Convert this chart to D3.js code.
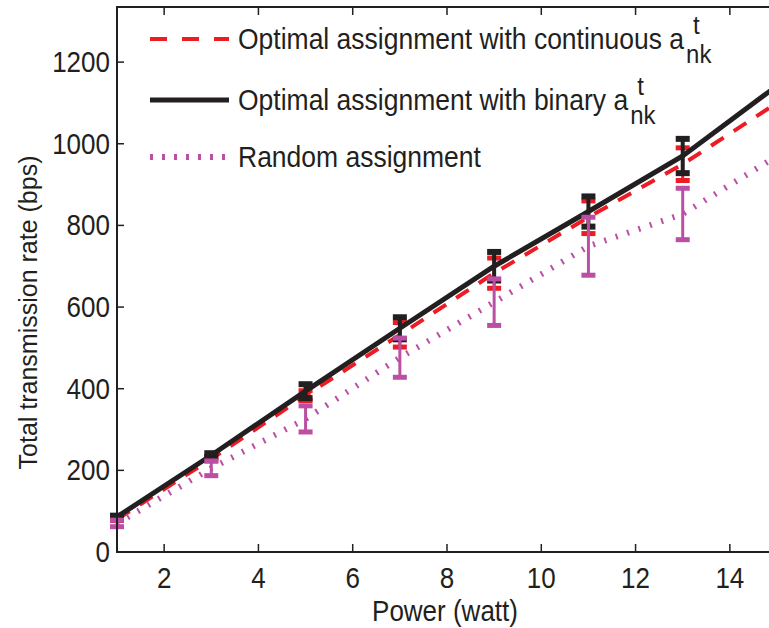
<!DOCTYPE html>
<html>
<head>
<meta charset="utf-8">
<script src="https://cdn.jsdelivr.net/npm/d3@7"></script>
<style>
    body { margin: 0; background: #ffffff; }
    svg { display: block; font-family: "Liberation Sans", Arial, sans-serif; }
</style>
</head>
<body>
<div id="chart"></div>
<script>
// power levels (watt) and mean rate / error half-width per scheme
const powerLevels = [1, 3, 5, 7, 9, 11, 13, 15];
const rateContinuous = [80, 228, 383, 532, 683, 820, 950, 1100];
const errContinuous = [3, 5, 12, 30, 37, 40, 40, 50];
const rateBinary = [86, 237, 394, 548, 700, 834, 970, 1142];
const errBinary = [3, 5, 17, 27, 35, 37, 42, 55];
const rateRandom = [70, 205, 326, 476, 612, 749, 828, 970];
const errRandom = [8, 18, 32, 48, 57, 71, 63, 60];

const xTickValues = [2, 4, 6, 8, 10, 12, 14];
const yTickValues = [0, 200, 400, 600, 800, 1000, 1200];

const legendLabels = ["Optimal assignment with continuous a", "Optimal assignment with binary a", "Random assignment"];
const legendSup = ["t", "t", ""];
const legendSub = ["nk", "nk", ""];

const xTitle = "Power (watt)";
const yTitle = "Total transmission rate (bps)";

const textColor = "#231f20";
const stretch = 1.1; // glyphs in the source figure are slightly taller than wide

function CreateScales() {
    const x = d3.scaleLinear().domain([1, 15]).range([117, 777]);
    const y = d3.scaleLinear().domain([0, 1335]).range([552, 7]);
    return { x, y };
};

function AddText(parent, x, y, content, size, anchor) {
    return parent.append("text")
        .attr("transform", `translate(${x}, ${y}) scale(1, ${stretch})`)
        .attr("text-anchor", anchor || "start")
        .attr("font-size", size)
        .attr("fill", textColor)
        .text(content);
};

function DrawAxes(svg, x, y) {
    const left = x.range()[0], right = x.range()[1];
    const bottom = y.range()[0], top = y.range()[1];

    // box
    svg.append("rect")
        .attr("x", left)
        .attr("y", top)
        .attr("width", right - left)
        .attr("height", bottom - top)
        .attr("fill", "none")
        .attr("stroke", textColor)
        .attr("stroke-width", 2);

    // x ticks, inward on bottom and top
    svg.selectAll(".xtick")
        .data(xTickValues)
        .join("g")
        .each(function (d) {
            const g = d3.select(this);
            g.append("line")
                .attr("x1", x(d)).attr("x2", x(d))
                .attr("y1", bottom).attr("y2", bottom - 8)
                .attr("stroke", textColor).attr("stroke-width", 1.5);
            g.append("line")
                .attr("x1", x(d)).attr("x2", x(d))
                .attr("y1", top).attr("y2", top + 8)
                .attr("stroke", textColor).attr("stroke-width", 1.5);
            AddText(g, x(d), bottom + 36, d, 26, "middle");
        });

    // y ticks, inward on left
    svg.selectAll(".ytick")
        .data(yTickValues)
        .join("g")
        .each(function (d) {
            const g = d3.select(this);
            g.append("line")
                .attr("x1", left).attr("x2", left + 7)
                .attr("y1", y(d)).attr("y2", y(d))
                .attr("stroke", textColor).attr("stroke-width", 1.5);
            AddText(g, left - 7, y(d) + 10, d, 26, "end");
        });

    AddText(svg, (left + 769) / 2 + 2, 621, xTitle, 26, "middle");

    svg.append("text")
        .attr("transform", `translate(37, ${(bottom + top) / 2 + 33}) rotate(-90) scale(1, 1.05)`)
        .attr("text-anchor", "middle")
        .attr("font-size", 25)
        .attr("fill", textColor)
        .text(yTitle);
};

function DrawSeries(svg, x, y, values, errors, style) {
    const points = powerLevels.map((p, i) => ({ p, v: values[i], e: errors[i] }));

    svg.append("path")
        .datum(points)
        .attr("fill", "none")
        .attr("stroke", style.color)
        .attr("stroke-width", style.width)
        .attr("stroke-dasharray", style.dash)
        .attr("d", d3.line()
            .x(d => x(d.p))
            .y(d => y(d.v))
        );

    const bars = svg.append("g")
        .selectAll("g")
        .data(points)
        .join("g");

    bars.append("line")
        .attr("x1", d => x(d.p))
        .attr("x2", d => x(d.p))
        .attr("y1", d => y(d.v - d.e))
        .attr("y2", d => y(d.v + d.e))
        .attr("stroke", style.barColor)
        .attr("stroke-width", style.barWidth);

    [-1, 1].forEach(sign => {
        bars.append("rect")
            .attr("x", d => x(d.p) - 7)
            .attr("y", d => y(d.v + sign * d.e) - style.capHeight / 2)
            .attr("width", 14)
            .attr("height", style.capHeight)
            .attr("fill", style.barColor);
    });
};

function DrawLegend(svg, styles) {
    const rowY = [39, 100, 157];

    styles.forEach((style, i) => {
        svg.append("line")
            .attr("x1", 150)
            .attr("x2", 229)
            .attr("y1", rowY[i])
            .attr("y2", rowY[i])
            .attr("stroke", style.color)
            .attr("stroke-width", style.width)
            .attr("stroke-dasharray", style.legendDash);

        const label = AddText(svg, 238, rowY[i] + 10, legendLabels[i], 26.5);
        const end = 238 + label.node().getComputedTextLength();

        if (legendSup[i]) {
            AddText(svg, end + 9, rowY[i] - 5, legendSup[i], 24);
            AddText(svg, end + 2, rowY[i] + 24, legendSub[i], 24);
        }
    });
};

function DrawGraph(divId) {
    const svg = d3.select(`#${divId}`)
        .append("svg")
        .attr("width", 769)
        .attr("height", 628);

    const { x, y } = CreateScales();

    const styles = [
        { color: "#ed1c24", width: 4, dash: "15,12", legendDash: "17,15", barColor: "#ed1c24", barWidth: 3, capHeight: 5 },
        { color: "#231f20", width: 5, dash: null, legendDash: null, barColor: "#231f20", barWidth: 4, capHeight: 6 },
        { color: "#bb4fa4", width: 6, dash: "2,10", legendDash: "3,9", barColor: "#bb4fa4", barWidth: 3, capHeight: 5 }
    ];

    DrawSeries(svg, x, y, rateContinuous, errContinuous, styles[0]);
    DrawSeries(svg, x, y, rateBinary, errBinary, styles[1]);
    DrawSeries(svg, x, y, rateRandom, errRandom, styles[2]);

    DrawAxes(svg, x, y);
    DrawLegend(svg, styles);
};

DrawGraph("chart");
</script>
</body>
</html>
